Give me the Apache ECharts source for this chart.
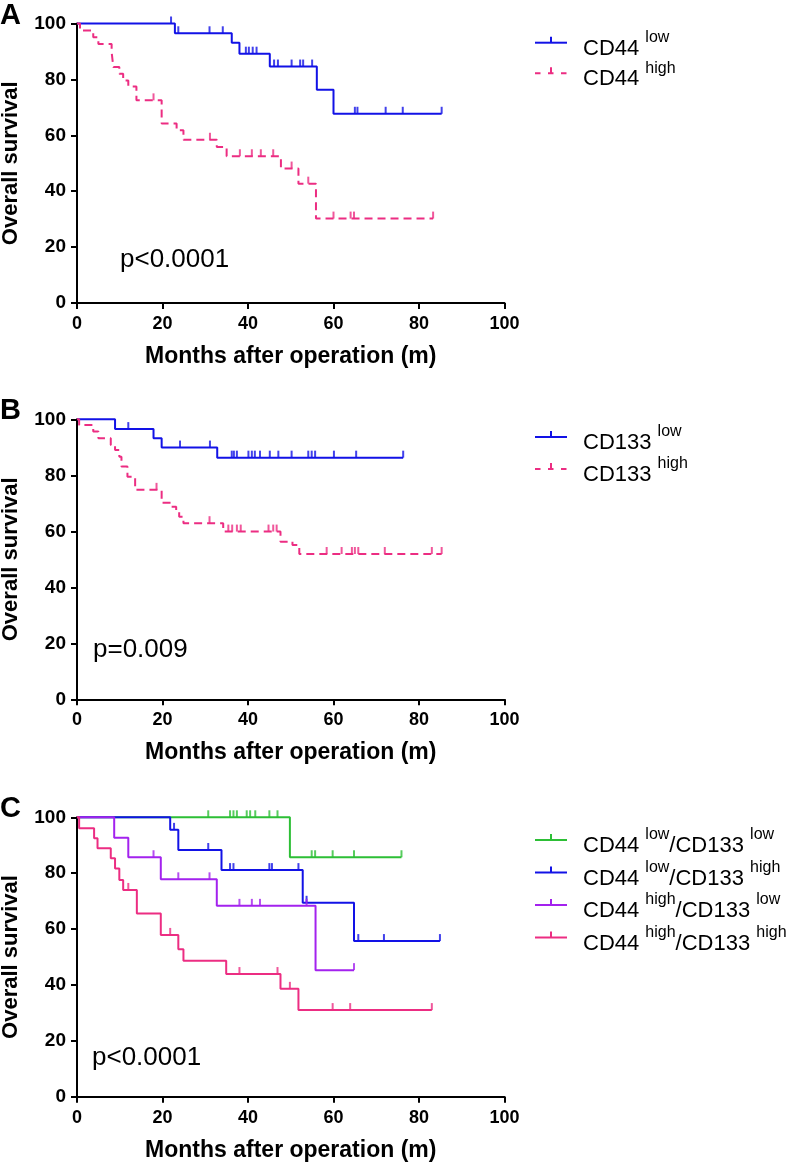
<!DOCTYPE html>
<html><head><meta charset="utf-8">
<script src="https://cdn.jsdelivr.net/npm/echarts@6/dist/echarts.min.js"></script>
<style>html,body{margin:0;padding:0;background:#fff}#c{width:799px;height:1163px}</style>
</head><body><div id="c"></div>
<script>
// ---------- DATA ----------
const xTickValues = [0, 20, 40, 60, 80, 100];
const yTickValues = [0, 20, 40, 60, 80, 100];

// Panel A: CD44
const aLowTimes  = [0, 22.9, 36.2, 38.0, 45.1, 56.1, 60.0, 85.3];
const aLowSurv   = [100, 96.5, 93.1, 89.2, 84.6, 76.3, 67.7, 67.7];
const aLowCens   = [22.0, 23.7, 31.0, 34.1, 39.5, 40.2, 41.1, 42.0, 46.1, 47.0, 50.2, 52.2, 52.9, 55.0, 65.0, 65.6, 72.2, 76.2, 85.3];
const aHighTimes = [0, 0.7, 3.8, 5.0, 8.1, 8.5, 9.9, 10.8, 12.0, 13.9, 19.8, 23.3, 24.9, 32.7, 35.0, 47.7, 51.8, 55.9, 83.3];
const aHighSurv  = [100, 97.5, 95.1, 92.7, 89.8, 84.4, 82.0, 79.6, 77.5, 72.5, 64.2, 61.8, 58.4, 55.8, 52.5, 48.1, 42.7, 30.2, 30.2];
const aHighCens  = [17.9, 31.1, 38.1, 40.9, 43.0, 45.9, 50.2, 54.1, 60.0, 64.0, 64.8, 83.3];

// Panel B: CD133
const bLowTimes  = [0, 8.9, 17.9, 19.8, 32.8, 76.3];
const bLowSurv   = [100, 96.5, 93.2, 89.9, 86.3, 86.3];
const bLowCens   = [12.0, 24.1, 31.1, 36.2, 36.7, 37.4, 40.1, 40.9, 41.6, 42.8, 45.1, 47.1, 50.2, 54.1, 54.9, 55.7, 60.1, 65.3, 76.3];
const bHighTimes = [0, 0.5, 3.8, 5.0, 7.9, 8.9, 9.9, 10.4, 11.8, 13.6, 19.8, 22.1, 23.2, 23.9, 24.9, 34.2, 47.6, 50.4, 52.0, 85.3];
const bHighSurv  = [100, 98.0, 95.6, 93.2, 90.8, 89.0, 86.6, 83.1, 79.5, 74.8, 70.2, 68.8, 67.0, 65.2, 62.9, 59.9, 56.3, 55.1, 51.9, 51.9];
const bHighCens  = [18.6, 31.0, 35.4, 36.3, 37.4, 38.3, 44.8, 45.9, 46.7, 58.4, 61.9, 64.3, 65.0, 65.8, 72.0, 83.0, 85.3];

// Panel C: combined
const cLLTimes = [0, 49.8, 75.9];
const cLLSurv  = [100, 85.7, 85.7];
const cLLCens  = [30.7, 35.8, 36.6, 37.4, 39.7, 40.5, 41.7, 45.0, 46.9, 54.9, 55.7, 59.8, 64.8, 75.9];
const cLHTimes = [0, 21.8, 23.7, 33.8, 52.8, 64.8, 84.9];
const cLHSurv  = [100, 95.5, 88.3, 81.1, 69.4, 55.7, 55.7];
const cLHCens  = [22.7, 30.7, 35.8, 36.6, 45.0, 45.6, 51.8, 53.7, 65.8, 71.8, 84.9];
const cHLTimes = [0, 8.7, 12.0, 19.6, 32.7, 55.8, 64.8];
const cHLSurv  = [100, 92.7, 85.7, 77.8, 68.3, 45.3, 45.3];
const cHLCens  = [17.9, 23.7, 31.0, 38.0, 40.9, 42.8, 53.7, 64.8];
const cHHTimes = [0, 0.5, 4.0, 4.8, 7.9, 8.9, 9.9, 10.8, 14.0, 19.6, 23.7, 24.9, 34.9, 47.6, 51.8, 83.0];
const cHHSurv  = [100, 96.1, 92.5, 88.9, 85.3, 81.7, 77.6, 74.0, 65.6, 57.9, 52.8, 48.7, 43.9, 38.6, 31.0, 31.0];
const cHHCens  = [12.0, 21.8, 38.0, 46.9, 49.8, 59.8, 63.9, 83.0];

const panelLetters = ['A', 'B', 'C'];
const pValues = ['p<0.0001', 'p=0.009', 'p<0.0001'];
const xAxisTitle = 'Months after operation (m)';
const yAxisTitle = 'Overall survival';

// legend label parts: [main, sup, main, sup]
const legendA = [['CD44', 'low'], ['CD44', 'high']];
const legendB = [['CD133', 'low'], ['CD133', 'high']];
const legendC = [['CD44', 'low', '/CD133', 'low'], ['CD44', 'low', '/CD133', 'high'],
                 ['CD44', 'high', '/CD133', 'low'], ['CD44', 'high', '/CD133', 'high']];

// ---------- STYLE / LAYOUT ----------
const FONT = '"Liberation Sans", Arial, Helvetica, sans-serif';
const BLUE = '#1212e6', PINK = '#ec2d82', GREEN = '#2dbf36', PURPLE = '#a322ee';
const grids = [
  {left: 77, top: 23.5, width: 427.5, height: 279.5, outerBoundsMode: 'none', containLabel: false},
  {left: 77, top: 419.3, width: 427.5, height: 280, outerBoundsMode: 'none', containLabel: false},
  {left: 77, top: 817.3, width: 427.5, height: 279.4, outerBoundsMode: 'none', containLabel: false}
];
const legendY = [[42.7, 73.3], [437, 469], [840, 872.5, 905, 937.5]];
const pPos = [[120, 260], [93, 650], [92, 1058]];
const letterY = [15.5, 411, 809];

const curves = [
  {g: 0, name: 'CD44 low', t: aLowTimes, s: aLowSurv, c: aLowCens, color: BLUE, dash: false, leg: legendA[0]},
  {g: 0, name: 'CD44 high', t: aHighTimes, s: aHighSurv, c: aHighCens, color: PINK, dash: true, leg: legendA[1]},
  {g: 1, name: 'CD133 low', t: bLowTimes, s: bLowSurv, c: bLowCens, color: BLUE, dash: false, leg: legendB[0]},
  {g: 1, name: 'CD133 high', t: bHighTimes, s: bHighSurv, c: bHighCens, color: PINK, dash: true, leg: legendB[1]},
  {g: 2, name: 'CD44 low/CD133 low', t: cLLTimes, s: cLLSurv, c: cLLCens, color: GREEN, dash: false, leg: legendC[0]},
  {g: 2, name: 'CD44 low/CD133 high', t: cLHTimes, s: cLHSurv, c: cLHCens, color: BLUE, dash: false, leg: legendC[1]},
  {g: 2, name: 'CD44 high/CD133 low', t: cHLTimes, s: cHLSurv, c: cHLCens, color: PURPLE, dash: false, leg: legendC[2]},
  {g: 2, name: 'CD44 high/CD133 high', t: cHHTimes, s: cHHSurv, c: cHHCens, color: PINK, dash: false, leg: legendC[3]}
];

function stepAt(times, surv, t) {
  let v = surv[0];
  for (let i = 0; i < times.length; i++) if (times[i] <= t) v = surv[i];
  return v;
}

const series = [];
curves.forEach(cv => {
  series.push({
    type: 'line', name: cv.name, xAxisIndex: cv.g, yAxisIndex: cv.g,
    data: cv.t.map((t, i) => [t, cv.s[i]]), step: 'end', symbol: 'none', clip: false,
    lineStyle: {color: cv.color, width: 2, type: cv.dash ? [8, 5] : 'solid'},
    z: 3
  });
  series.push({
    type: 'scatter', name: cv.name + ' censored', xAxisIndex: cv.g, yAxisIndex: cv.g,
    data: cv.c.map(t => [t, stepAt(cv.t, cv.s, t)]),
    symbol: 'rect', symbolSize: [2, 7], symbolOffset: [0, -3.5], clip: false,
    itemStyle: {color: cv.color}, z: 4
  });
});

const xAxes = grids.map((g, i) => ({
  type: 'value', gridIndex: i, min: xTickValues[0], max: xTickValues[xTickValues.length - 1], interval: 20,
  axisLine: {show: true, onZero: false, lineStyle: {color: '#000', width: 2}},
  axisTick: {show: true, length: 6, lineStyle: {color: '#000', width: 2}},
  axisLabel: {color: '#000', fontFamily: FONT, fontWeight: 'bold', fontSize: 18, margin: 12},
  splitLine: {show: false},
  name: xAxisTitle, nameLocation: 'middle', nameGap: 42,
  nameTextStyle: {color: '#000', fontFamily: FONT, fontWeight: 'bold', fontSize: 23}
}));
const yAxes = grids.map((g, i) => ({
  type: 'value', gridIndex: i, min: yTickValues[0], max: yTickValues[yTickValues.length - 1], interval: 20,
  axisLine: {show: true, onZero: false, lineStyle: {color: '#000', width: 2}},
  axisTick: {show: true, length: 6, lineStyle: {color: '#000', width: 2}},
  axisLabel: {color: '#000', fontFamily: FONT, fontWeight: 'bold', fontSize: 19, margin: 11},
  splitLine: {show: false},
  name: yAxisTitle, nameLocation: 'middle', nameGap: 55, nameRotate: 90,
  nameTextStyle: {color: '#000', fontFamily: FONT, fontWeight: 'bold', fontSize: 22}
}));

// ---------- GRAPHIC (legends, letters, p-values) ----------
const graphic = [];
const rich = {
  n: {fontSize: 22, fontFamily: FONT, lineHeight: 24, verticalAlign: 'bottom', fill: '#000'},
  s: {fontSize: 16, fontFamily: FONT, lineHeight: 16, padding: [0, 0, 14, 0], verticalAlign: 'bottom', fill: '#000'}
};
const legIdx = [0, 0, 0];
curves.forEach(cv => {
  const y = legendY[cv.g][legIdx[cv.g]++];
  graphic.push({type: 'line', shape: {x1: 535, y1: y, x2: 567, y2: y},
    style: {stroke: cv.color, lineWidth: 2, lineDash: cv.dash ? [5.5, 7.5] : null}});
  graphic.push({type: 'line', shape: {x1: 551, y1: y - 6, x2: 551, y2: y},
    style: {stroke: cv.color, lineWidth: 2}});
  let txt = '{n|' + cv.leg[0] + ' }{s|' + cv.leg[1] + '}';
  if (cv.leg.length > 2) txt += '{n|' + cv.leg[2] + ' }{s|' + cv.leg[3] + '}';
  graphic.push({type: 'text', x: 583, y: y + 5,
    style: {text: txt, rich: rich, verticalAlign: 'middle', align: 'left', fill: '#000'}});
});
panelLetters.forEach((L, i) => {
  graphic.push({type: 'text', x: 0, y: letterY[i],
    style: {text: L, font: 'bold 29px ' + FONT, fill: '#000', verticalAlign: 'middle', align: 'left'}});
});
pValues.forEach((p, i) => {
  graphic.push({type: 'text', x: pPos[i][0], y: pPos[i][1],
    style: {text: p, font: '26px ' + FONT, fill: '#000', verticalAlign: 'middle', align: 'left'}});
});

const chart = echarts.init(document.getElementById('c'), null, {renderer: 'canvas'});
chart.setOption({
  animation: false,
  backgroundColor: '#fff',
  grid: grids,
  xAxis: xAxes,
  yAxis: yAxes,
  series: series,
  graphic: graphic
});
</script></body></html>
